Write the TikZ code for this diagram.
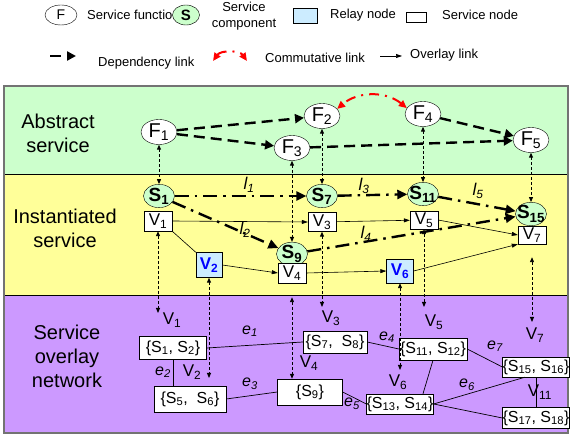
\documentclass[tikz,border=0pt]{standalone}
\usepackage{fontspec}
\setmainfont{Liberation Sans}
\usetikzlibrary{arrows.meta, shapes.geometric}

\definecolor{absgreen}{HTML}{CCFFCC}
\definecolor{instyellow}{HTML}{FFFF99}
\definecolor{ovlpurple}{HTML}{CC99FF}
\definecolor{compgreen}{HTML}{CCFFCC}
\definecolor{relayblue}{HTML}{CCECFF}
\newcommand{\zwbox}[1]{\makebox[0pt]{#1}}

\begin{document}
\begin{tikzpicture}[x=1pt, y=-1pt,
  fn/.style={ellipse, draw, fill=white, minimum width=36pt, minimum height=25pt, inner sep=0pt, font=\fontsize{20}{20}\selectfont},
  comp/.style={ellipse, draw, fill=compgreen, minimum width=31pt, minimum height=21pt, inner sep=0pt, font=\bfseries\fontsize{19}{19}\selectfont},
  vnode/.style={draw, fill=white, minimum width=28pt, minimum height=20pt, inner sep=0pt, font=\fontsize{17}{17}\selectfont},
  relay/.style={vnode, fill=relayblue, text=blue, minimum width=26pt, minimum height=25pt, font=\bfseries\fontsize{17}{17}\selectfont},
  sset/.style={draw, fill=white, minimum height=22pt, inner sep=0pt, font=\fontsize{16}{16}\selectfont},
  layertxt/.style={align=center, font=\fontsize{20}{24}\selectfont},
  legtxt/.style={font=\fontsize{13}{16}\selectfont, inner sep=0pt},
  vlbl/.style={font=\fontsize{17}{17}\selectfont, inner sep=0pt},
  llbl/.style={font=\itshape\fontsize{17}{17}\selectfont, inner sep=0pt},
  elbl/.style={font=\itshape\fontsize{16}{16}\selectfont, inner sep=0pt},
  dep/.style={line width=2.4pt, dash pattern=on 11pt off 6pt, -{Triangle[length=9pt,width=9pt]}},
  inst/.style={line width=2.4pt, dash pattern=on 14pt off 6pt on 2.5pt off 6pt, -{Triangle[length=10pt,width=9pt]}},
  comm/.style={red, line width=2pt, dash pattern=on 10pt off 6pt on 2pt off 6pt, {Triangle[length=8pt,width=7pt]}-{Triangle[length=8pt,width=7pt]}},
  ovl/.style={line width=0.6pt, -{Triangle[length=6pt,width=4pt]}},
  map/.style={line width=0.9pt, dash pattern=on 3pt off 2pt, {Triangle[length=5pt,width=4pt]}-{Triangle[length=5pt,width=4pt]}},
  link/.style={line width=0.7pt}]
  \useasboundingbox (0,0) rectangle (571,438);

  % legend
  \node[fn, minimum width=32pt, minimum height=20pt, font=\fontsize{14}{14}\selectfont] (legF) at (61,15) {F};
  \node[legtxt, anchor=west] (legFtxt) at (87,15) {Service function};
  \node[comp, minimum width=27pt, minimum height=20pt, font=\bfseries\fontsize{15}{15}\selectfont] (legS) at (186,15) {S};
  \node[legtxt, align=center] (legStxt) at (244,16) {Service\\component};
  \node[draw, fill=relayblue, minimum width=24pt, minimum height=15pt, inner sep=0pt] (legR) at (305,15.5) {};
  \node[legtxt, anchor=west] (legRtxt) at (330,15) {Relay node};
  \node[draw, fill=white, minimum width=20pt, minimum height=10pt, inner sep=0pt] (legV) at (416,17) {};
  \node[legtxt, anchor=west] (legVtxt) at (442,15) {Service node};
  \coordinate (legD1) at (50,56);
  \coordinate (legD2) at (76,56);
  \draw[dep] (legD1) -- (legD2);
  \node[legtxt, anchor=west] (legDtxt) at (98,63) {Dependency link};
  \coordinate (legC1) at (213,61);
  \coordinate (legC2) at (247,61);
  \draw[comm] (legC1) to[bend left=55] (legC2);
  \node[legtxt, anchor=west] (legCtxt) at (265,58) {Commutative link};
  \coordinate (legO1) at (380,56);
  \coordinate (legO2) at (402,56);
  \draw[ovl] (legO1) -- (legO2);
  \node[legtxt, anchor=west] (legOtxt) at (410,55) {Overlay link};

  % layers
  \fill[absgreen] (4,86) rectangle (568,174);
  \fill[instyellow] (4,174) rectangle (568,295);
  \fill[ovlpurple] (4,295) rectangle (568,433);
  \draw[line width=0.8pt] (4,174) -- (568,174);
  \draw[line width=0.8pt] (4,295) -- (568,295);
  \draw[black!55, line width=1.5pt] (4,86) rectangle (568,433);
  \node[layertxt] (absL) at (58,133) {Abstract\\service};
  \node[layertxt] (instL) at (65,228) {Instantiated\\service};
  \node[layertxt] (ovlL) at (67,356) {Service\\overlay\\network};

  % abstract service
  \node[fn] (F1) at (159,132) {F\textsubscript{1}};
  \node[fn] (F2) at (322,116) {F\textsubscript{2}};
  \node[fn] (F3) at (292,148) {F\textsubscript{3}};
  \node[fn] (F4) at (423,114) {F\textsubscript{4}};
  \node[fn] (F5) at (531,140) {F\textsubscript{5}};
  \draw[dep] (F1) -- (F2);
  \draw[dep] (F1) -- (F3);
  \draw[dep] (F3) -- (F5);
  \draw[dep] (F4) -- (F5);
  \draw[comm] (F4.160) to[bend right=40] (F2.25);

  % instantiated service
  \node[comp] (S1) at (159,196) {\zwbox{S\textsubscript{1}}};
  \node[comp] (S7) at (322,196) {\zwbox{S\textsubscript{7}}};
  \node[comp] (S11) at (423,194) {\zwbox{S\textsubscript{11}}};
  \node[comp] (S15) at (531,214) {\zwbox{S\textsubscript{15}}};
  \node[comp, minimum height=19pt] (S9) at (292,254) {\zwbox{S\textsubscript{9}}};
  \node[vnode] (V1) at (158,221) {V\textsubscript{1}};
  \node[vnode, minimum height=19pt] (V3) at (322,222) {V\textsubscript{3}};
  \node[vnode, minimum height=18pt] (V5) at (424,220) {V\textsubscript{5}};
  \node[vnode, minimum height=18pt] (V7) at (532,235) {V\textsubscript{7}};
  \node[vnode] (V4) at (292,273) {V\textsubscript{4}};
  \node[relay] (V2) at (209,265) {V\textsubscript{2}};
  \node[relay, minimum width=27pt, minimum height=24pt] (V6) at (400,271) {V\textsubscript{6}};

  \draw[map] (F1) -- (S1);
  \draw[map] (F2) -- (S7);
  \draw[map] (F3) -- (S9);
  \draw[map] (F4) -- (S11);
  \draw[map] (F5) -- (S15);

  \draw[inst] (S1) -- (S7);
  \draw[inst] (S1) -- (S9);
  \draw[inst] (S7) -- (S11);
  \draw[inst] (S11) -- (S15);
  \draw[inst] (S9) -- (S15);
  \node[llbl] (l1) at (249,185) {l\textsubscript{1}};
  \node[llbl] (l2) at (245,230) {l\textsubscript{2}};
  \node[llbl] (l3) at (364,186) {l\textsubscript{3}};
  \node[llbl] (l4) at (366,234) {l\textsubscript{4}};
  \node[llbl] (l5) at (478,191) {l\textsubscript{5}};

  \draw[ovl] (V1.east) -- (V3.west);
  \draw[link, line width=0.6pt] (V1.south east) -- (V2.north west);
  \draw[ovl] (V2.east) -- (V4.west);
  \draw[ovl] (V3) -- (V5);
  \draw[ovl] (V5.east) -- (V7.west);
  \draw[ovl] (V4.east) -- (V6.west);
  \draw[ovl] (V6.east) -- (V7.south west);

  % service overlay network
  \node[sset, minimum width=67pt, minimum height=23pt] (b12) at (173,348) {\{S\textsubscript{1}, S\textsubscript{2}\}};
  \node[sset, minimum width=72pt, minimum height=26pt] (b56) at (190,399) {\{S\textsubscript{5}, \ S\textsubscript{6}\}};
  \node[sset, minimum width=64pt] (b78) at (335,342) {\{S\textsubscript{7}, \ S\textsubscript{8}\}};
  \node[sset, minimum width=65pt, minimum height=26pt] (b9) at (310,392) {\{S\textsubscript{9}\}};
  \node[sset, minimum width=68pt] (b1112) at (433,349) {\{S\textsubscript{11}, S\textsubscript{12}\}};
  \node[sset, minimum width=56pt, minimum height=20pt] (b1314) at (400,404) {\{S\textsubscript{13}, S\textsubscript{14}\}};
  \node[sset, minimum width=66pt, minimum height=20pt] (b1516) at (536,367) {\{S\textsubscript{15}, S\textsubscript{16}\}};
  \node[sset, minimum width=66pt, minimum height=21pt] (b1718) at (536,418) {\{S\textsubscript{17}, S\textsubscript{18}\}};

  \draw[link] (b12.east) -- (b78.west);
  \draw[link] (b12.south) -- (b12.south |- b56.north);
  \draw[link] (b56.east) -- (b9.west);
  \draw[link] (b78.east) -- (b1112.west);
  \draw[link] (b9.east) -- (b1314.west);
  \draw[link] (b1112.south) -- ([xshift=23pt]b1314.north);
  \draw[link] (b1112.east) -- (b1516.west);
  \draw[link] (b1314.east) -- ([xshift=-11pt]b1516.south);
  \draw[link] (b1314.east) -- (b1718.west);
  \draw[link] (b1516.south) -- (b1718.north);
  \node[elbl] (e1) at (250,331) {e\textsubscript{1}};
  \node[elbl] (e2) at (163,372) {e\textsubscript{2}};
  \node[elbl] (e3) at (250,384) {e\textsubscript{3}};
  \node[elbl] (e4) at (387,337) {e\textsubscript{4}};
  \node[elbl] (e5) at (352,404) {e\textsubscript{5}};
  \node[elbl] (e6) at (467,385) {e\textsubscript{6}};
  \node[elbl] (e7) at (495,346) {e\textsubscript{7}};

  % mapping of V nodes onto the overlay
  \coordinate (mV1) at (158,313);
  \coordinate (mV2) at (209,378);
  \coordinate (mV3) at (322,307);
  \coordinate (mV5) at (424,307);
  \coordinate (mV6) at (400,370);
  \coordinate (mV7) at (532,322);
  \draw[map] (V1) -- (mV1);
  \draw[map] (V2) -- (mV2);
  \draw[map] (V3) -- (mV3);
  \draw[map, shorten <=14pt] (V4) -- (V4 |- b9.north);
  \draw[map] (V5) -- (mV5);
  \draw[map] (V6) -- (mV6);
  \draw[map, shorten <=13pt] (V7) -- (mV7);
  \node[vlbl] (lV1) at (172,320) {V\textsubscript{1}};
  \node[vlbl] (lV2) at (192,372) {V\textsubscript{2}};
  \node[vlbl] (lV3) at (331,318) {V\textsubscript{3}};
  \node[vlbl] (lV4) at (309,363) {V\textsubscript{4}};
  \node[vlbl] (lV5) at (434,322) {V\textsubscript{5}};
  \node[vlbl] (lV6) at (398,382) {V\textsubscript{6}};
  \node[vlbl] (lV7) at (535,335) {V\textsubscript{7}};
  \node[vlbl] (lV11) at (540,392) {V\textsubscript{11}};
\end{tikzpicture}
\end{document}
